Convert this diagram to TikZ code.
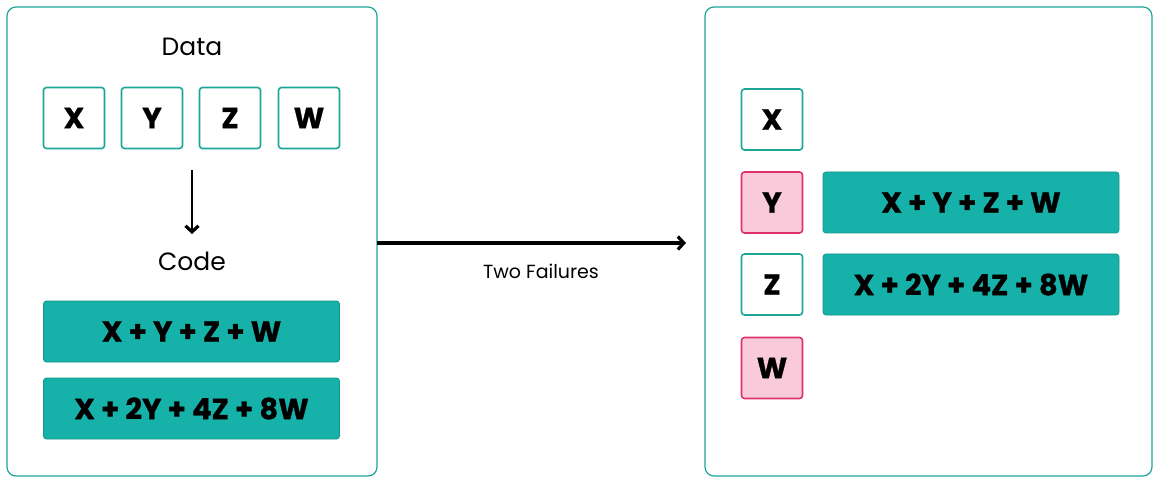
\documentclass[tikz,border=0pt]{standalone}
\usepackage{fontspec}
\setmainfont{Poppins}
\usetikzlibrary{arrows.meta}
\definecolor{tealline}{RGB}{28,166,152}
\definecolor{codefill}{RGB}{22,178,170}
\definecolor{codeline}{RGB}{18,150,140}
\definecolor{lostfill}{RGB}{248,202,218}
\definecolor{lostline}{RGB}{222,50,104}
\tikzset{
	panel/.style={draw=tealline, line width=1.2pt, rounded corners=9pt},
	databox/.style={draw=tealline, line width=1.6pt, rounded corners=3pt, minimum width=61pt, minimum height=61pt, inner sep=0pt, font=\fontsize{29}{32}\selectfont\bfseries\addfontfeature{FakeBold=1}},
	lostbox/.style={databox, draw=lostline, fill=lostfill},
	codebox/.style={draw=codeline, fill=codefill, line width=0.8pt, rounded corners=3pt, minimum width=296pt, minimum height=61pt, inner sep=0pt, font=\fontsize{29}{32}\selectfont\bfseries\addfontfeature{FakeBold=1}},
	title/.style={font=\fontsize{25}{28}\selectfont},
	flow/.style={line width=3.2pt, -{Straight Barb[length=6pt, width=13pt, line width=3.2pt]}}
}
\begin{document}
\begin{tikzpicture}[x=1pt, y=-1pt]
		\useasboundingbox (0,0) rectangle (1153,478);
		% panels
		\draw[panel] (7,7) rectangle (377,476);
		\draw[panel] (705,7) rectangle (1152,476);
		% left: data and code
		\node[title] (data) at (192,47) {Data};
		\node[databox] (x) at (74,118) {X};
		\node[databox] (y) at (152,118) {Y};
		\node[databox] (z) at (230,118) {Z};
		\node[databox] (w) at (309,118) {W};
		\coordinate (down1) at (192,170);
		\coordinate (down2) at (192,234);
		\draw[flow, line width=2.6pt] (down1) to (down2);
		\node[title] (code) at (192,261) {Code};
		\node[codebox] (sum) at (191.5,331.5) {X + Y + Z + W};
		\node[codebox] (wsum) at (191.5,408.5) {X + 2Y + 4Z + 8W};
		% failure arrow
		\coordinate (fail1) at (377,243);
		\coordinate (fail2) at (686,243);
		\draw[flow] (fail1) to (fail2);
		\node[font=\fontsize{19}{22}\selectfont] (two) at (541,271) {Two Failures};
		% right: survivors
		\node[databox] (rx) at (772,119.5) {X};
		\node[lostbox] (ry) at (772,202.5) {Y};
		\node[databox] (rz) at (772,284.5) {Z};
		\node[lostbox] (rw) at (772,368) {W};
		\node[codebox] (rsum) at (971,202.5) {X + Y + Z + W};
		\node[codebox] (rwsum) at (971,284.5) {X + 2Y + 4Z + 8W};
\end{tikzpicture}
\end{document}
